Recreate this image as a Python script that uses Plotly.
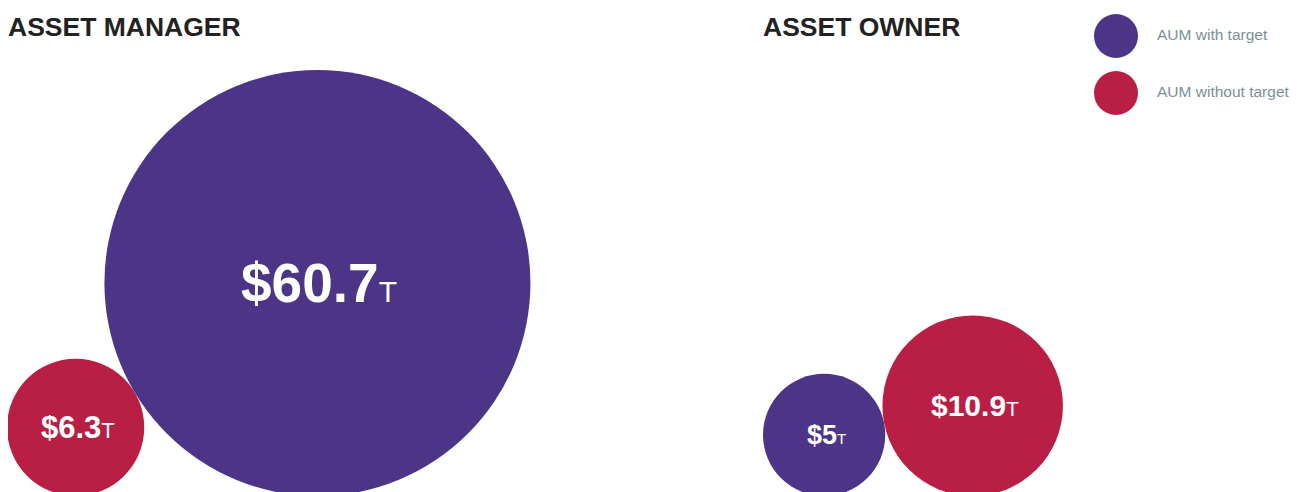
import math
import plotly.graph_objects as go

# data
groups = ["ASSET MANAGER", "ASSET OWNER"]
series = ["AUM with target", "AUM without target"]
manager_values = [60.7, 6.3]   # with, without ($T)
owner_values = [5, 10.9]       # with, without ($T)
colors = {"AUM with target": "#4c3487", "AUM without target": "#b91f45"}

W, H = 1304, 492
PAGE_PAD = 8       # default body margin of the html page
K = 27.34          # px radius per sqrt($T)
BASE = 496         # circles sit on a common baseline
group_left = [7, 763]
title_x = [8, 763]

# label font sizes (main, suffix) by value
label_fonts = {60.7: (55, 30), 6.3: (31, 22), 10.9: (30, 21), 5: (27, 15)}

fig = go.Figure()

for gi, (group, values) in enumerate(zip(groups, [manager_values, owner_values])):
    items = sorted(zip(series, values), key=lambda t: t[1])
    xs, ys, rs, cs = [], [], [], []
    x_prev, r_prev = None, None
    for name, v in items:
        r = K * math.sqrt(v)
        if x_prev is None:
            x = group_left[gi] + r
        else:
            x = x_prev + 2 * math.sqrt(r * r_prev)
        xs.append(x)
        ys.append(BASE - r)
        rs.append(r)
        cs.append(colors[name])
        x_prev, r_prev = x, r

        main, sub = label_fonts[v]
        fig.add_annotation(
            x=x, y=BASE - r, xref="x", yref="y", showarrow=False, xshift=2,
            text=f"<b>${v:g}</b><span style='font-size:{sub}px'>T</span>",
            font=dict(family="Liberation Sans, Arial, sans-serif", size=main, color="white"),
            xanchor="center", yanchor="middle",
        )

    fig.add_trace(go.Scatter(
        x=xs, y=ys, mode="markers", hoverinfo="skip",
        marker=dict(size=[2 * r for r in rs], color=cs, line=dict(width=0), opacity=1),
    ))

    # the annotation box adds ~2px of padding on the left
    fig.add_annotation(
        x=title_x[gi], y=27, xref="x", yref="y", showarrow=False, xshift=-2,
        text=f"<b>{group}</b>", xanchor="left", yanchor="middle",
        font=dict(family="Liberation Sans, Arial, sans-serif", size=26.5, color="#222222"),
    )

# legend
legend_y = [36, 93]
fig.add_trace(go.Scatter(
    x=[1116, 1116], y=legend_y, mode="markers", hoverinfo="skip",
    marker=dict(size=44, color=[colors[s] for s in series], line=dict(width=0)),
))
for s, y in zip(series, legend_y):
    fig.add_annotation(
        x=1155, y=y - 2, xref="x", yref="y", showarrow=False, text=s,
        xanchor="left", yanchor="middle",
        font=dict(family="Liberation Sans, Arial, sans-serif", size=15.5, color="#7b909a"),
    )

fig.update_layout(
    width=W, height=H,
    margin=dict(l=0, r=0, t=0, b=0),
    paper_bgcolor="white", plot_bgcolor="white",
    showlegend=False,
    xaxis=dict(range=[PAGE_PAD, W + PAGE_PAD], visible=False, fixedrange=True),
    yaxis=dict(range=[H + PAGE_PAD, PAGE_PAD], visible=False, fixedrange=True),
)

fig.write_html("out.html")
